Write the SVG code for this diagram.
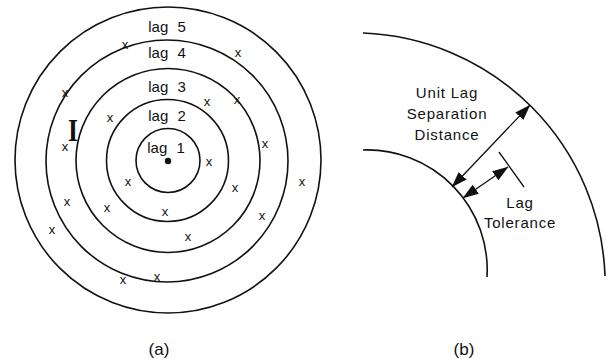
<svg xmlns="http://www.w3.org/2000/svg" width="610" height="362" viewBox="0 0 610 362">
<style>
.ring{fill:none;stroke:#111;stroke-width:1.6}
.lbl{font-family:"Liberation Sans",Arial,sans-serif;font-size:15px;fill:#111;text-anchor:middle}
.lag{word-spacing:5px}
.x{font-family:"Liberation Sans",Arial,sans-serif;font-size:13px;fill:#111;text-anchor:middle}
.txt{font-family:"Liberation Sans",Arial,sans-serif;font-size:15px;fill:#111;text-anchor:middle;letter-spacing:0.8px}
.cap{font-family:"Liberation Sans",Arial,sans-serif;font-size:17px;fill:#111;text-anchor:middle}
.conn{fill:none;stroke:#111;stroke-width:1.3}
</style>
<defs>
<marker id="ah" viewBox="0 0 16 11" refX="15.5" refY="5.5" markerWidth="16" markerHeight="11" markerUnits="userSpaceOnUse" orient="auto-start-reverse">
<path d="M0,0 L16,5.5 L0,11 Z" fill="#111"/>
</marker>
</defs>
<rect width="610" height="362" fill="#fff"/>
<g id="panel-a">
<g id="rings">
<circle class="ring" cx="168" cy="160.5" r="32"/>
<circle class="ring" cx="167.5" cy="160.5" r="61"/>
<circle class="ring" cx="168" cy="160.5" r="92"/>
<circle class="ring" cx="167" cy="161" r="121"/>
<circle class="ring" cx="168" cy="160" r="153"/>
</g>
<circle id="center" cx="168" cy="161" r="3.2" fill="#111"/>
<g id="lag-labels">
<text class="lbl lag" x="167" y="32">lag 5</text>
<text class="lbl lag" x="167" y="58">lag 4</text>
<text class="lbl lag" x="167" y="92">lag 3</text>
<text class="lbl lag" x="167" y="121">lag 2</text>
<text class="lbl lag" x="166" y="153">lag 1</text>
</g>
<text id="cursor" x="73" y="141" font-family="Liberation Serif,'Times New Roman',serif" font-size="32" font-weight="bold" text-anchor="middle" fill="#111" transform="translate(73 0) scale(0.8 1) translate(-73 0)">I</text>
<g id="points">
<text class="x" x="125" y="49">x</text>
<text class="x" x="238" y="57">x</text>
<text class="x" x="65" y="97">x</text>
<text class="x" x="207" y="106">x</text>
<text class="x" x="237" y="104">x</text>
<text class="x" x="110" y="122">x</text>
<text class="x" x="65" y="151">x</text>
<text class="x" x="265" y="148">x</text>
<text class="x" x="209" y="166">x</text>
<text class="x" x="302" y="186">x</text>
<text class="x" x="128" y="186">x</text>
<text class="x" x="235" y="192">x</text>
<text class="x" x="67" y="206">x</text>
<text class="x" x="107" y="212">x</text>
<text class="x" x="165" y="216">x</text>
<text class="x" x="262" y="220">x</text>
<text class="x" x="52" y="234">x</text>
<text class="x" x="188" y="241">x</text>
<text class="x" x="123" y="284">x</text>
<text class="x" x="157" y="281">x</text>
</g>
<text id="cap-a" class="cap" x="159" y="355">(a)</text>
</g>
<g id="panel-b">
<g id="arcs">
<path id="outer-arc" class="ring" d="M363,33 A252,252 0 0 1 605,276"/>
<path id="inner-arc" class="ring" d="M363,150 A120,120 0 0 1 487,277"/>
</g>
<g id="connectors">
<line class="conn" x1="452" y1="187" x2="530" y2="105" marker-start="url(#ah)" marker-end="url(#ah)"/>
<line class="conn" x1="463" y1="198" x2="508" y2="167" marker-start="url(#ah)" marker-end="url(#ah)"/>
<line class="conn" x1="499" y1="152" x2="524" y2="187"/>
</g>
<g id="label-unit-lag">
<text class="txt" x="447" y="98">Unit Lag</text>
<text class="txt" x="447" y="119">Separation</text>
<text class="txt" x="447" y="140">Distance</text>
</g>
<g id="label-tolerance">
<text class="txt" x="520" y="208">Lag</text>
<text class="txt" x="520" y="228">Tolerance</text>
</g>
<text id="cap-b" class="cap" x="464" y="355">(b)</text>
</g>
</svg>
